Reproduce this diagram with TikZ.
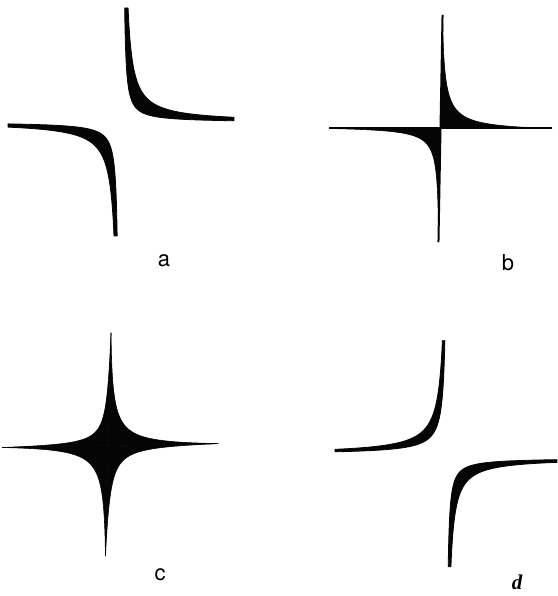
\documentclass[tikz,border=0pt]{standalone}
\usepackage{fontspec}
\usepackage{tikz}
\newfontfamily\lblfont{TeX Gyre Heros}
\newfontfamily\lblserif{Liberation Serif}
\definecolor{cInk}{HTML}{050505}

\begin{document}
\begin{tikzpicture}[
  x=1pt,y=1pt,
  band/.style={fill=cInk,draw=cInk,line width=0.8pt,line join=round},
  spike/.style={fill=cInk,draw=cInk,line width=0.6pt,line join=round},
  axisln/.style={draw=cInk,line width=2pt},
  lbl/.style={font=\lblfont\fontsize{22}{26}\selectfont,anchor=base,inner sep=0pt},
]
\useasboundingbox (0,0) rectangle (557,596);

% ====================================================== a and d: hyperbolic bands
% origin x/y, quadrant, inner and outer constant, arm lengths
\foreach \ox/\oy/\sx/\sy/\ci/\co/\hU/\hV in {
    123/473.5/1/1/190/580/111/114.5,       % a, upper branch
    119/474/-1/-1/210/570/111/114,         % a, lower branch
    447.5/141.5/-1/1/300/580/112.5/113.8,  % d, upper branch
    446.5/138/1/-1/185/480/110.5/108.7}{   % d, lower branch
  \pgfmathsetmacro\ta{ln(\co/\hV)}
  \pgfmathsetmacro\tb{ln(\hU)}
  \pgfmathsetmacro\tc{ln(\ci/\hV)}
  \filldraw[band,shift={(\ox,\oy)}]
    plot[domain=\ta:\tb,samples=70,variable=\t] ({\sx*exp(\t)},{\sy*\co/exp(\t)})
    -- plot[domain=\tb:\tc,samples=70,variable=\t] ({\sx*exp(\t)},{\sy*\ci/exp(\t)})
    -- cycle;
}

% ====================================================== b: two filled quadrants on the cross
\begin{scope}[shift={(440.5,467.5)},xslant=0.018]
  \foreach \sx/\sy/\hc/\hU/\hV in {1/1/420/111.5/113.5, -1/-1/280/111.5/113.5}{
    \pgfmathsetmacro\pp{\hc/\hV}
    \pgfmathsetmacro\qq{\hc/\hU}
    \pgfmathsetmacro\kk{\hc+\pp*\qq}
    \pgfmathsetmacro\ta{ln(\pp)}
    \pgfmathsetmacro\tb{ln(\hU+\pp)}
    \filldraw[spike] (0,0)
      -- plot[domain=\ta:\tb,samples=70,variable=\t] ({\sx*(exp(\t)-\pp)},{\sy*(\kk/exp(\t)-\qq)})
      -- cycle;
  }
  \draw[axisln] (-111.5,0) -- (111.5,0);
  \draw[axisln] (0,-113.5) -- (0,113.5);
\end{scope}

% ====================================================== c: four-pointed star
\begin{scope}[shift={(108.2,150.4)},xslant=0.025,yslant=0.018]
  \foreach \sx/\sy/\hc/\hU/\hV in {1/1/470/110/112.6, 1/-1/320/110/110.4,
                                   -1/-1/470/106/110.4, -1/1/240/106/112.6}{
    \pgfmathsetmacro\pp{\hc/\hV}
    \pgfmathsetmacro\qq{\hc/\hU}
    \pgfmathsetmacro\kk{\hc+\pp*\qq}
    \pgfmathsetmacro\ta{ln(\pp)}
    \pgfmathsetmacro\tb{ln(\hU+\pp)}
    \filldraw[spike] (0,0)
      -- plot[domain=\ta:\tb,samples=70,variable=\t] ({\sx*(exp(\t)-\pp)},{\sy*(\kk/exp(\t)-\qq)})
      -- cycle;
  }
\end{scope}

% labels
\node[lbl] (lblA) at (164,329) {a};
\node[lbl] (lblB) at (508,325) {b};
\node[lbl] (lblC) at (160,16) {c};
\node[lbl,font=\lblserif\bfseries\itshape\fontsize{21}{25}\selectfont] (lblD) at (517,6) {d};

\end{tikzpicture}
\end{document}
